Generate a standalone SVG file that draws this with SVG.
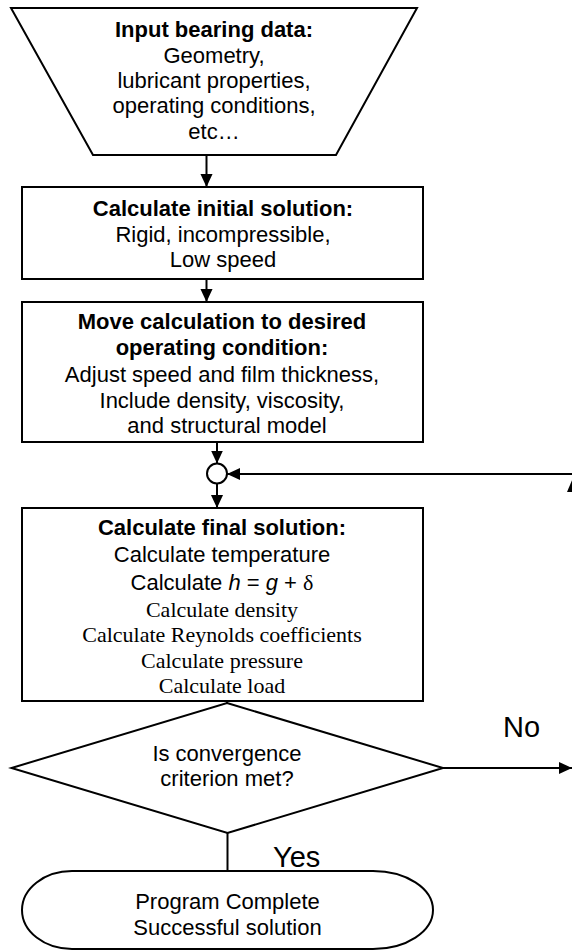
<svg xmlns="http://www.w3.org/2000/svg" width="572" height="951" viewBox="0 0 572 951">
<style>
.s{fill:#fff;stroke:#000;stroke-width:2}
.l{fill:none;stroke:#000;stroke-width:2}
.ah{fill:#000;stroke:none}
text{font-family:"Liberation Sans",Arial,sans-serif;font-size:22px;fill:#000;text-anchor:middle}
.b{font-weight:bold}
.t{font-family:"Liberation Serif","Times New Roman",serif}
.lab{font-size:29px;text-anchor:start}
</style>
<defs>
<marker id="arr" markerWidth="13" markerHeight="14" refX="14" refY="6.5" markerUnits="userSpaceOnUse" orient="auto" viewBox="0 0 14 13">
<path d="M0,0 L14,6.5 L0,13 Z" fill="#000"/>
</marker>
</defs>
<rect width="572" height="951" fill="#fff"/>
<g id="connectors">
<line class="l" x1="206.5" y1="155" x2="206.5" y2="187" marker-end="url(#arr)"/>
<line class="l" x1="206.5" y1="279" x2="206.5" y2="302" marker-end="url(#arr)"/>
<line class="l" x1="217" y1="442" x2="217" y2="463.5" marker-end="url(#arr)"/>
<line class="l" x1="217" y1="483.5" x2="217" y2="508" marker-end="url(#arr)"/>
<line class="l" x1="572" y1="474" x2="227" y2="474" marker-end="url(#arr)"/>
<polygon class="ah" points="567,492 573,478 579,492"/>
<line class="l" x1="227" y1="701" x2="227" y2="725" marker-end="url(#arr)"/>
<line class="l" x1="443" y1="768" x2="572" y2="768" marker-end="url(#arr)"/>
<line class="l" x1="227.5" y1="833" x2="227.5" y2="885" marker-end="url(#arr)"/>
</g>
<g id="input">
<polygon class="s" points="11,8 417,8 336,155 93,155"/>
<text x="214" y="37" class="b">Input bearing data:</text>
<text x="214" y="63">Geometry,</text>
<text x="214" y="88">lubricant properties,</text>
<text x="214" y="113">operating conditions,</text>
<text x="214" y="139">etc…</text>
</g>
<g id="initial">
<rect class="s" x="22" y="187" width="401" height="92"/>
<text x="223" y="216" class="b">Calculate initial solution:</text>
<text x="223" y="241.5">Rigid, incompressible,</text>
<text x="223" y="267">Low speed</text>
</g>
<g id="move">
<rect class="s" x="22" y="302" width="401" height="140"/>
<text x="222" y="329" class="b">Move calculation to desired</text>
<text x="222" y="355" class="b">operating condition:</text>
<text x="222" y="381.5">Adjust speed and film thickness,</text>
<text x="222" y="407.5">Include density, viscosity,</text>
<text x="227" y="433">and structural model</text>
</g>
<g id="junction">
<circle class="s" cx="217" cy="473.5" r="10"/>
</g>
<g id="final">
<rect class="s" x="22" y="508" width="401" height="193"/>
<text x="222" y="535" class="b">Calculate final solution:</text>
<text x="222" y="561.5">Calculate temperature</text>
<text x="222" y="590">Calculate <tspan font-style="italic">h</tspan> = <tspan font-style="italic">g</tspan> + <tspan class="t">δ</tspan></text>
<text x="222" y="616.5" class="t">Calculate density</text>
<text x="222" y="641.5" class="t">Calculate Reynolds coefficients</text>
<text x="222" y="668" class="t">Calculate pressure</text>
<text x="222" y="693" class="t">Calculate load</text>
</g>
<g id="decision">
<polygon class="s" points="227,703 443,768 227.5,833 11.5,768"/>
<text x="227" y="760.5">Is convergence</text>
<text x="227" y="785.5">criterion met?</text>
</g>
<g id="complete">
<path class="s" d="M72,871 H373 A60,39 0 0 1 373,949 H72 A50,39 0 0 1 72,871 Z"/>
<text x="227.5" y="909">Program Complete</text>
<text x="227.5" y="935">Successful solution</text>
</g>
<g id="labels">
<text x="503" y="737" class="lab">No</text>
<text x="273" y="866.5" class="lab">Yes</text>
</g>
</svg>
